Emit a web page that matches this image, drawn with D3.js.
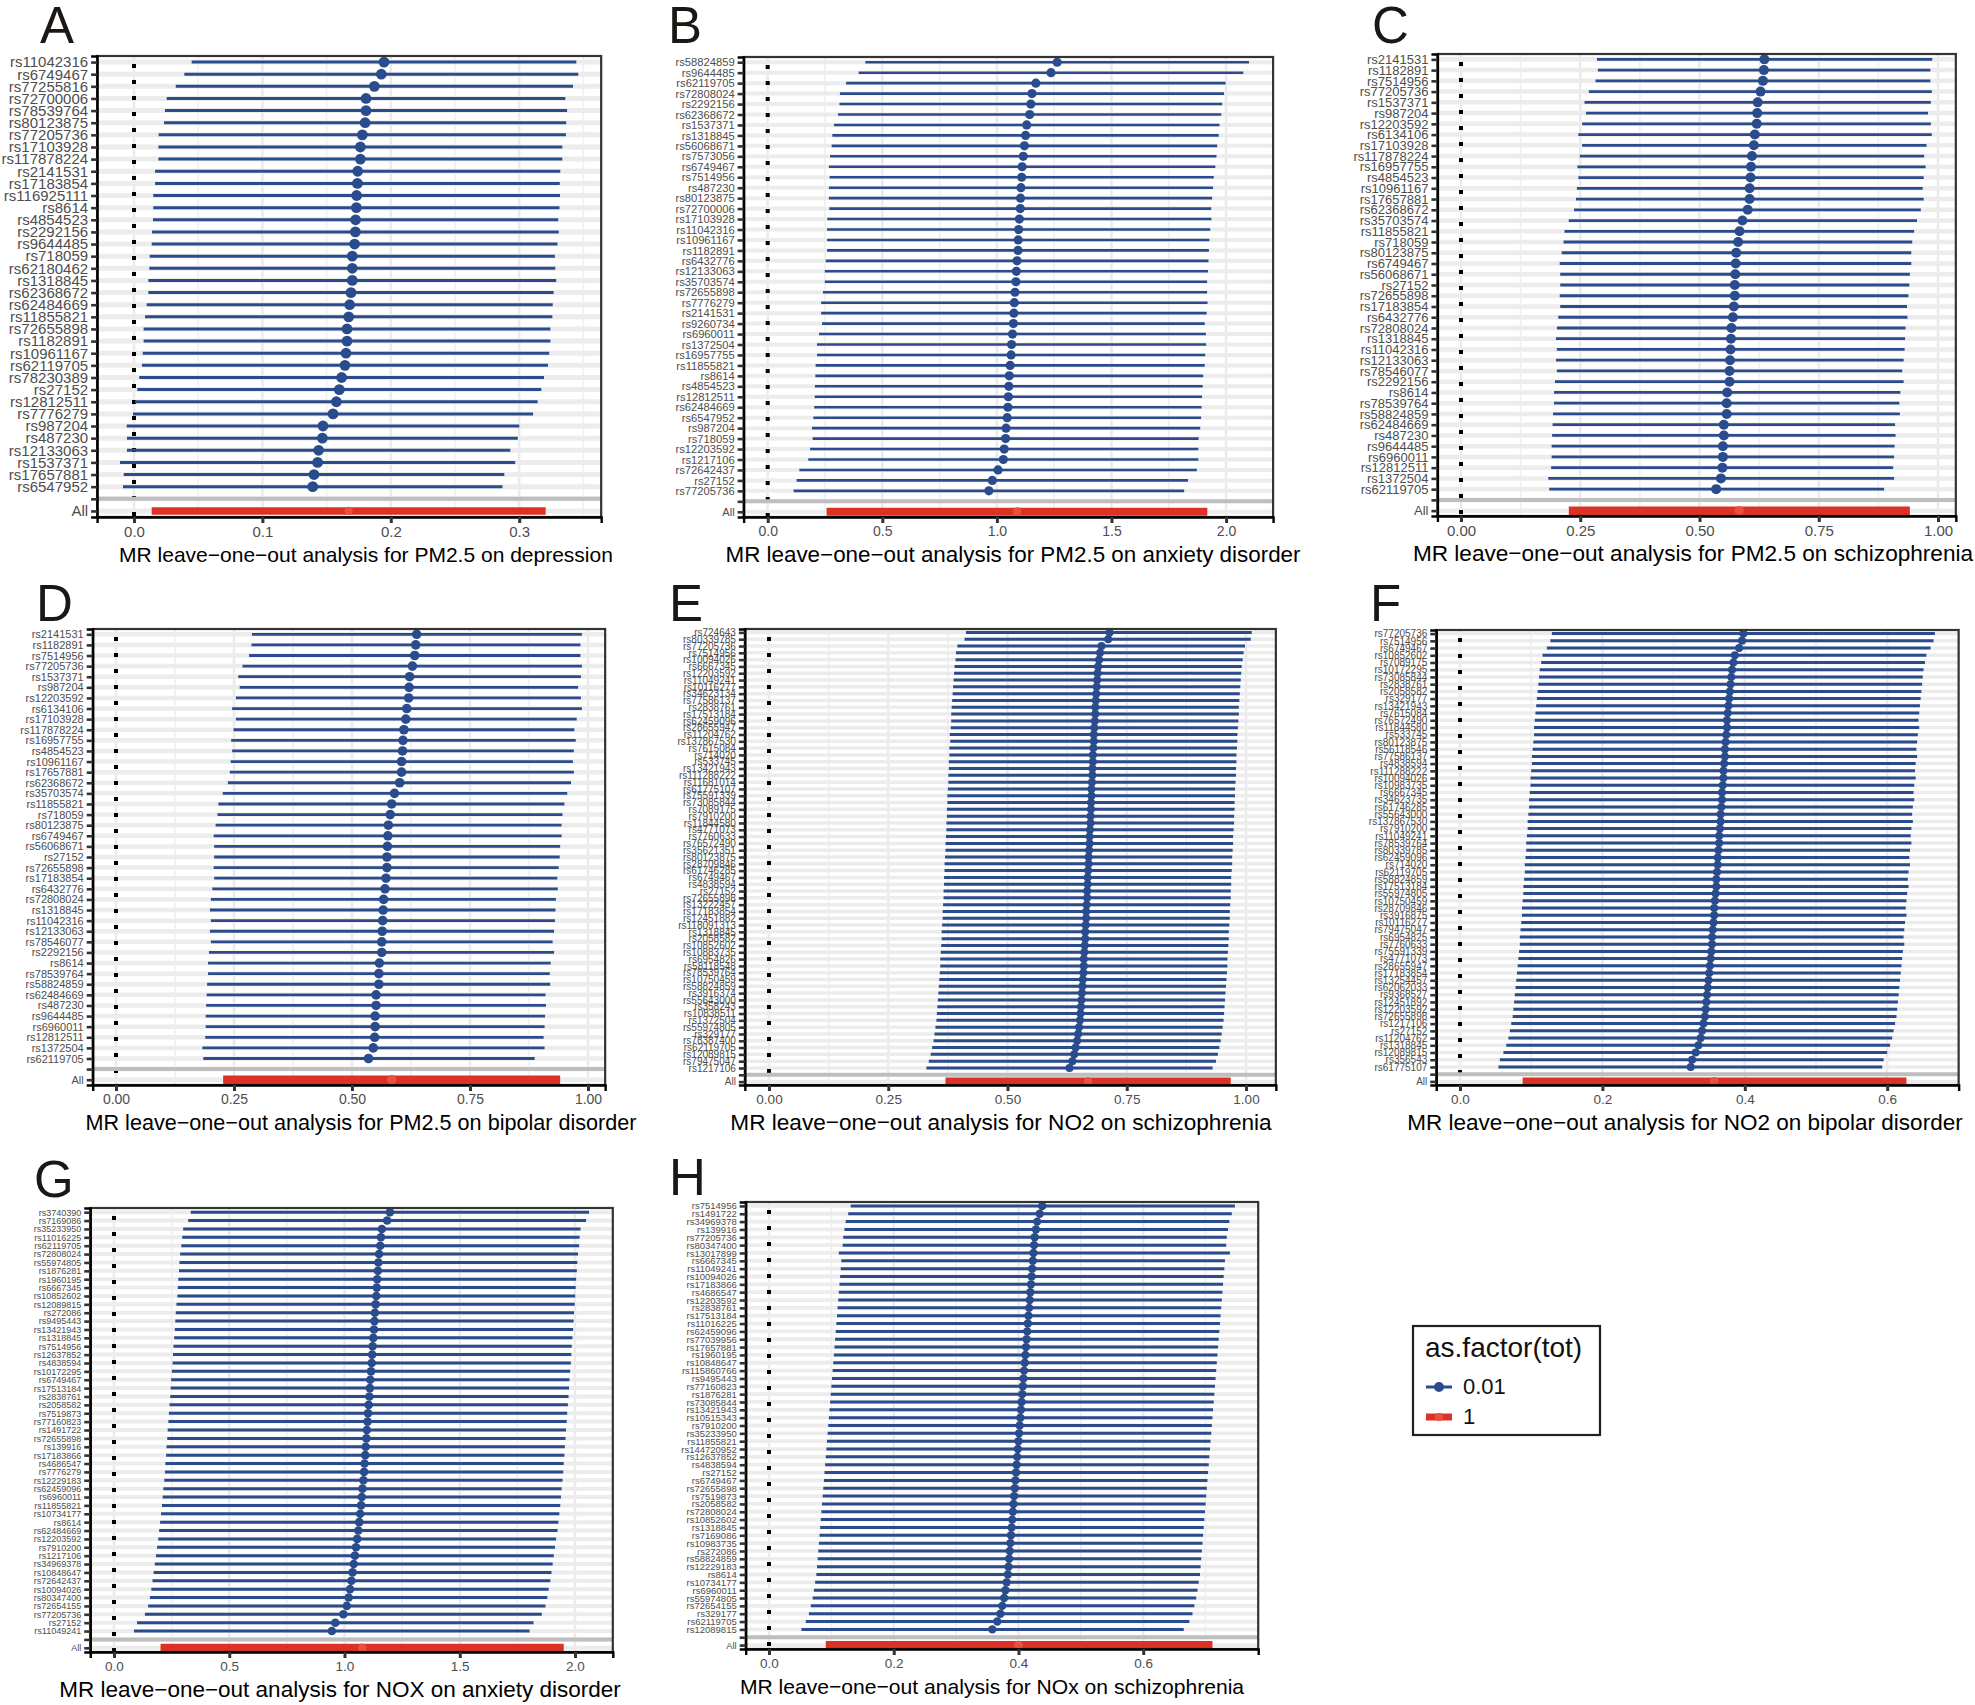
<!DOCTYPE html>
<html><head><meta charset="utf-8">
<script src="https://cdn.jsdelivr.net/npm/d3@7"></script>
<style>
body{margin:0;background:#fff;}
svg{display:block;}
text{font-family:"Liberation Sans",Arial,Helvetica,sans-serif;}
</style>
</head><body>
<svg id="c" width="1975" height="1705"></svg>
<script>
// ---------------- DATA ----------------
const A_snp = ["rs11042316","rs6749467","rs77255816","rs72700006","rs78539764","rs80123875","rs77205736","rs17103928","rs117878224","rs2141531","rs17183854","rs116925111","rs8614","rs4854523","rs2292156","rs9644485","rs718059","rs62180462","rs1318845","rs62368672","rs62484669","rs11855821","rs72655898","rs1182891","rs10961167","rs62119705","rs78230389","rs27152","rs12812511","rs7776279","rs987204","rs487230","rs12133063","rs1537371","rs17657881","rs6547952"];
const A_b  = [0.1947,0.1926,0.1872,0.1807,0.1807,0.1800,0.1778,0.1763,0.1763,0.1742,0.1740,0.1734,0.1732,0.1726,0.1724,0.1718,0.1700,0.1700,0.1700,0.1690,0.1680,0.1672,0.1659,0.1659,0.1651,0.1643,0.1617,0.1599,0.1576,0.1550,0.1472,0.1467,0.1438,0.1430,0.1402,0.1392];
const A_lo = [0.0449,0.0392,0.0325,0.0255,0.0241,0.0234,0.0192,0.0190,0.0190,0.0164,0.0164,0.0150,0.0150,0.0148,0.0140,0.0138,0.0122,0.0119,0.0112,0.0112,0.0099,0.0086,0.0075,0.0075,0.0068,0.0062,0.0041,0.0026,0.0008,-0.0008,-0.0057,-0.0055,-0.0055,-0.0109,-0.0080,-0.0086];
const A_hi = [0.3445,0.3460,0.3419,0.3359,0.3373,0.3366,0.3364,0.3336,0.3336,0.3320,0.3316,0.3318,0.3314,0.3304,0.3308,0.3298,0.3278,0.3281,0.3288,0.3268,0.3261,0.3258,0.3243,0.3243,0.3234,0.3224,0.3193,0.3172,0.3144,0.3108,0.3001,0.2989,0.2931,0.2969,0.2884,0.2870];
const A_all = [0.0138, 0.1672, 0.3206];
const A_ticks = [0, 0.1, 0.2, 0.3];

const B_snp = ["rs58824859","rs9644485","rs62119705","rs72808024","rs2292156","rs62368672","rs1537371","rs1318845","rs56068671","rs7573056","rs6749467","rs7514956","rs487230","rs80123875","rs72700006","rs17103928","rs11042316","rs10961167","rs1182891","rs6432776","rs12133063","rs35703574","rs72655898","rs7776279","rs2141531","rs9260734","rs6960011","rs1372504","rs16957755","rs11855821","rs8614","rs4854523","rs12812511","rs62484669","rs6547952","rs987204","rs718059","rs12203592","rs1217106","rs72642437","rs27152","rs77205736"];
const B_lo = [0.426,0.397,0.342,0.315,0.313,0.307,0.289,0.282,0.279,0.272,0.267,0.270,0.267,0.267,0.269,0.260,0.259,0.259,0.259,0.253,0.249,0.249,0.241,0.233,0.233,0.237,0.224,0.215,0.215,0.209,0.208,0.206,0.205,0.203,0.199,0.193,0.196,0.185,0.177,0.138,0.126,0.113];
const B_b  = [1.263,1.236,1.170,1.153,1.148,1.143,1.130,1.125,1.120,1.115,1.110,1.108,1.105,1.103,1.102,1.098,1.095,1.093,1.092,1.088,1.085,1.083,1.079,1.076,1.074,1.072,1.068,1.064,1.062,1.058,1.054,1.052,1.050,1.048,1.045,1.040,1.038,1.032,1.028,1.005,0.980,0.965];
const B_hi = [2.100,2.075,1.998,1.991,1.983,1.979,1.971,1.968,1.961,1.958,1.953,1.946,1.943,1.939,1.935,1.936,1.931,1.927,1.925,1.923,1.921,1.917,1.917,1.919,1.915,1.907,1.912,1.913,1.909,1.907,1.900,1.898,1.895,1.893,1.891,1.887,1.880,1.879,1.879,1.872,1.834,1.817];
const B_all = [0.257, 1.088, 1.918];
const B_ticks = [0, 0.5, 1.0, 1.5, 2.0];

const C_snp = ["rs2141531","rs1182891","rs7514956","rs77205736","rs1537371","rs987204","rs12203592","rs6134106","rs17103928","rs117878224","rs16957755","rs4854523","rs10961167","rs17657881","rs62368672","rs35703574","rs11855821","rs718059","rs80123875","rs6749467","rs56068671","rs27152","rs72655898","rs17183854","rs6432776","rs72808024","rs1318845","rs11042316","rs12133063","rs78546077","rs2292156","rs8614","rs78539764","rs58824859","rs62484669","rs487230","rs9644485","rs6960011","rs12812511","rs1372504","rs62119705"];
const C_lo = [0.285,0.287,0.282,0.268,0.259,0.262,0.254,0.246,0.254,0.249,0.244,0.246,0.243,0.241,0.237,0.226,0.217,0.215,0.211,0.207,0.208,0.208,0.207,0.208,0.204,0.201,0.199,0.201,0.199,0.201,0.197,0.195,0.195,0.193,0.192,0.191,0.190,0.190,0.189,0.183,0.185];
const C_b  = [0.636,0.635,0.633,0.628,0.622,0.621,0.620,0.616,0.614,0.610,0.608,0.607,0.605,0.605,0.601,0.590,0.584,0.581,0.577,0.576,0.575,0.574,0.574,0.572,0.570,0.567,0.566,0.565,0.564,0.563,0.563,0.558,0.557,0.557,0.551,0.551,0.549,0.549,0.548,0.545,0.535];
const C_hi = [0.988,0.984,0.984,0.987,0.985,0.979,0.985,0.987,0.976,0.971,0.974,0.970,0.968,0.970,0.964,0.956,0.950,0.946,0.944,0.944,0.941,0.940,0.938,0.935,0.936,0.932,0.931,0.930,0.928,0.925,0.928,0.921,0.919,0.920,0.910,0.911,0.909,0.908,0.906,0.908,0.887];
const C_all = [0.226, 0.583, 0.941];
const C_ticks = [0, 0.25, 0.5, 0.75, 1.0];

const D_snp = ["rs2141531","rs1182891","rs7514956","rs77205736","rs1537371","rs987204","rs12203592","rs6134106","rs17103928","rs117878224","rs16957755","rs4854523","rs10961167","rs17657881","rs62368672","rs35703574","rs11855821","rs718059","rs80123875","rs6749467","rs56068671","rs27152","rs72655898","rs17183854","rs6432776","rs72808024","rs1318845","rs11042316","rs12133063","rs78546077","rs2292156","rs8614","rs78539764","rs58824859","rs62484669","rs487230","rs9644485","rs6960011","rs12812511","rs1372504","rs62119705"];
const D_lo = [0.288,0.287,0.282,0.268,0.259,0.262,0.254,0.246,0.254,0.249,0.244,0.246,0.243,0.241,0.237,0.226,0.217,0.215,0.211,0.207,0.208,0.208,0.207,0.208,0.204,0.201,0.199,0.201,0.199,0.201,0.197,0.195,0.195,0.193,0.192,0.191,0.190,0.190,0.189,0.183,0.185];
const D_b  = [0.637,0.635,0.633,0.628,0.622,0.621,0.620,0.616,0.614,0.610,0.608,0.607,0.605,0.605,0.601,0.590,0.584,0.581,0.577,0.576,0.575,0.574,0.574,0.572,0.570,0.567,0.566,0.565,0.564,0.563,0.563,0.558,0.557,0.557,0.551,0.551,0.549,0.549,0.548,0.545,0.535];
const D_hi = [0.987,0.984,0.984,0.987,0.985,0.979,0.985,0.987,0.976,0.971,0.974,0.970,0.968,0.970,0.964,0.956,0.950,0.946,0.944,0.944,0.941,0.940,0.938,0.935,0.936,0.932,0.931,0.930,0.928,0.925,0.928,0.921,0.919,0.920,0.910,0.911,0.909,0.908,0.906,0.908,0.887];
const D_all = [0.227, 0.584, 0.941];
const D_ticks = [0, 0.25, 0.5, 0.75, 1.0];

const E_snp = ["rs724643","rs80339785","rs77205736","rs7514956","rs10094026","rs6667345","rs12203592","rs11049241","rs10116277","rs34623134","rs77586137","rs2838761","rs17513184","rs62459096","rs28655947","rs11204762","rs137867530","rs7615084","rs714020","rs533745","rs13421943","rs111288222","rs11681014","rs61775107","rs75591339","rs73085844","rs7089175","rs7910200","rs11844580","rs4771073","rs7760633","rs76572490","rs35621351","rs80123875","rs28709846","rs61746285","rs6749467","rs4838594","rs27152","rs72655898","rs13222457","rs17183854","rs12451882","rs118091313","rs1318845","rs2058582","rs10852602","rs10883735","rs6954826","rs58118548","rs78539764","rs10750459","rs58824859","rs3916374","rs55643000","rs358243","rs10838511","rs1372504","rs55974805","rs329177","rs78387400","rs62119705","rs12089815","rs79475047","rs1217106"];
const E_b  = [0.714,0.711,0.697,0.694,0.692,0.690,0.689,0.688,0.687,0.686,0.685,0.684,0.684,0.683,0.682,0.681,0.681,0.680,0.679,0.679,0.678,0.678,0.677,0.676,0.676,0.675,0.675,0.674,0.674,0.673,0.672,0.672,0.671,0.670,0.670,0.669,0.668,0.668,0.667,0.667,0.666,0.665,0.665,0.664,0.663,0.663,0.662,0.661,0.660,0.660,0.659,0.658,0.657,0.656,0.655,0.654,0.653,0.652,0.650,0.648,0.646,0.643,0.640,0.636,0.630];
const E_lo = [0.413,0.410,0.395,0.392,0.391,0.389,0.388,0.387,0.386,0.385,0.384,0.383,0.382,0.382,0.381,0.379,0.380,0.378,0.378,0.377,0.377,0.376,0.376,0.375,0.374,0.374,0.373,0.373,0.372,0.372,0.371,0.370,0.370,0.369,0.368,0.368,0.367,0.367,0.366,0.366,0.365,0.364,0.364,0.363,0.362,0.362,0.361,0.360,0.359,0.359,0.358,0.357,0.356,0.355,0.354,0.353,0.352,0.351,0.349,0.347,0.345,0.342,0.339,0.335,0.330];
const E_hi = [1.012,1.010,0.998,0.995,0.993,0.991,0.990,0.989,0.988,0.987,0.986,0.985,0.985,0.984,0.983,0.982,0.982,0.981,0.980,0.980,0.979,0.979,0.978,0.977,0.977,0.976,0.976,0.975,0.975,0.974,0.973,0.973,0.972,0.971,0.971,0.970,0.969,0.969,0.968,0.968,0.967,0.966,0.966,0.965,0.964,0.964,0.963,0.962,0.961,0.961,0.960,0.959,0.958,0.957,0.956,0.955,0.954,0.953,0.951,0.949,0.947,0.944,0.941,0.937,0.930];
const E_all = [0.370, 0.669, 0.968];
const E_ticks = [0, 0.25, 0.5, 0.75, 1.0];

const F_snp = ["rs77205736","rs7514956","rs6749467","rs10852602","rs7089175","rs10172295","rs73085844","rs2838761","rs2058582","rs329177","rs13421943","rs7615084","rs76572490","rs11844580","rs533745","rs80123875","rs56118546","rs77586137","rs4838594","rs111288222","rs10094026","rs10983735","rs6667345","rs34623735","rs61746285","rs55643000","rs137867530","rs7910200","rs11049241","rs78539764","rs80339785","rs62459096","rs714020","rs62119705","rs58824859","rs17513184","rs55974805","rs10750459","rs28709846","rs3916875","rs10116277","rs79475047","rs6954825","rs7760633","rs75591339","rs4771073","rs28655947","rs17183854","rs13254457","rs62062033","rs9368527","rs12451892","rs12203592","rs72655898","rs1217106","rs27152","rs11204762","rs1318845","rs12089815","rs356543","rs61775107"];
const F_b  = [0.398,0.396,0.392,0.386,0.384,0.382,0.381,0.380,0.379,0.378,0.377,0.376,0.375,0.375,0.374,0.373,0.372,0.372,0.371,0.370,0.370,0.369,0.368,0.368,0.367,0.366,0.366,0.365,0.364,0.364,0.363,0.362,0.362,0.361,0.360,0.360,0.359,0.358,0.357,0.357,0.356,0.355,0.354,0.354,0.353,0.352,0.351,0.350,0.349,0.348,0.347,0.346,0.345,0.344,0.342,0.340,0.338,0.335,0.331,0.326,0.324];
const F_lo = [0.129,0.127,0.122,0.116,0.114,0.112,0.111,0.110,0.109,0.108,0.107,0.106,0.105,0.104,0.104,0.103,0.102,0.101,0.101,0.100,0.099,0.099,0.098,0.097,0.097,0.096,0.095,0.095,0.094,0.093,0.093,0.092,0.091,0.091,0.090,0.089,0.089,0.088,0.087,0.087,0.086,0.085,0.084,0.084,0.083,0.082,0.081,0.080,0.079,0.078,0.077,0.076,0.075,0.074,0.072,0.070,0.068,0.065,0.061,0.056,0.054];
const F_hi = [0.667,0.665,0.661,0.655,0.653,0.651,0.650,0.649,0.648,0.647,0.646,0.645,0.644,0.645,0.643,0.642,0.641,0.642,0.640,0.639,0.640,0.638,0.637,0.638,0.636,0.635,0.636,0.634,0.633,0.634,0.632,0.631,0.632,0.630,0.629,0.630,0.628,0.627,0.626,0.627,0.625,0.624,0.623,0.624,0.622,0.621,0.620,0.619,0.618,0.617,0.616,0.615,0.614,0.613,0.611,0.609,0.607,0.604,0.600,0.595,0.593];
const F_all = [0.088, 0.357, 0.627];
const F_ticks = [0, 0.2, 0.4, 0.6];

const G_snp = ["rs3740390","rs7169086","rs35233950","rs11016225","rs62119705","rs72808024","rs55974805","rs1876281","rs1960195","rs6667345","rs10852602","rs12089815","rs272086","rs9495443","rs13421943","rs1318845","rs7514956","rs12637852","rs4838594","rs10172295","rs6749467","rs17513184","rs2838761","rs2058582","rs7519873","rs77160823","rs1491722","rs72655898","rs139916","rs17183866","rs4686547","rs7776279","rs12229183","rs62459096","rs6960011","rs11855821","rs10734177","rs8614","rs62484669","rs12203592","rs7910200","rs1217106","rs34969378","rs10848647","rs72642437","rs10094026","rs80347400","rs72654155","rs77205736","rs27152","rs11049241"];
const G_b  = [1.197,1.185,1.162,1.158,1.155,1.150,1.147,1.145,1.142,1.140,1.138,1.135,1.132,1.130,1.128,1.125,1.122,1.120,1.118,1.115,1.112,1.110,1.108,1.105,1.102,1.100,1.097,1.095,1.092,1.090,1.087,1.085,1.082,1.078,1.075,1.072,1.068,1.064,1.060,1.055,1.050,1.045,1.040,1.035,1.030,1.024,1.018,1.010,0.995,0.960,0.945];
const G_lo = [0.333,0.322,0.300,0.296,0.292,0.287,0.284,0.282,0.279,0.277,0.275,0.271,0.268,0.266,0.264,0.261,0.258,0.256,0.254,0.251,0.248,0.246,0.244,0.241,0.238,0.236,0.233,0.231,0.228,0.226,0.223,0.221,0.218,0.214,0.211,0.208,0.204,0.200,0.196,0.192,0.187,0.182,0.177,0.172,0.167,0.162,0.156,0.148,0.134,0.100,0.087];
const G_hi = [2.061,2.048,2.024,2.020,2.018,2.013,2.010,2.008,2.005,2.003,2.001,1.999,1.996,1.994,1.992,1.989,1.986,1.984,1.982,1.979,1.976,1.974,1.972,1.969,1.966,1.964,1.961,1.959,1.956,1.954,1.951,1.949,1.946,1.942,1.939,1.936,1.932,1.928,1.924,1.918,1.913,1.908,1.903,1.898,1.893,1.886,1.880,1.872,1.856,1.820,1.803];
const G_all = [0.202, 1.077, 1.951];
const G_ticks = [0, 0.5, 1.0, 1.5, 2.0];

const H_snp = ["rs7514956","rs1491722","rs34969378","rs139916","rs77205736","rs80347400","rs13017899","rs6667345","rs11049241","rs10094026","rs17183866","rs4686547","rs12203592","rs2838761","rs17513184","rs11016225","rs62459096","rs77039956","rs17657881","rs1960195","rs10848647","rs115860766","rs9495443","rs77160823","rs1876281","rs73085844","rs13421943","rs10515343","rs7910200","rs35233950","rs11855821","rs144720952","rs12637852","rs4838594","rs27152","rs6749467","rs72655898","rs7519873","rs2058582","rs72808024","rs10852602","rs1318845","rs7169086","rs10983735","rs272086","rs58824859","rs12229183","rs8614","rs10734177","rs6960011","rs55974805","rs72654155","rs329177","rs62119705","rs12089815"];
const H_b  = [0.438,0.434,0.430,0.428,0.426,0.425,0.424,0.423,0.422,0.421,0.420,0.419,0.418,0.417,0.416,0.415,0.414,0.413,0.412,0.411,0.410,0.409,0.408,0.407,0.406,0.405,0.404,0.403,0.402,0.401,0.400,0.399,0.398,0.397,0.396,0.395,0.394,0.393,0.392,0.391,0.390,0.389,0.388,0.387,0.386,0.385,0.384,0.383,0.381,0.379,0.377,0.374,0.371,0.366,0.358];
const H_lo = [0.131,0.127,0.123,0.121,0.119,0.118,0.112,0.116,0.115,0.114,0.113,0.112,0.111,0.110,0.109,0.108,0.107,0.106,0.105,0.104,0.103,0.102,0.101,0.100,0.099,0.098,0.097,0.096,0.095,0.094,0.093,0.092,0.091,0.090,0.089,0.088,0.087,0.086,0.085,0.084,0.083,0.082,0.081,0.080,0.079,0.078,0.077,0.076,0.074,0.072,0.070,0.067,0.064,0.059,0.052];
const H_hi = [0.747,0.742,0.738,0.736,0.734,0.733,0.739,0.731,0.730,0.729,0.728,0.727,0.726,0.725,0.724,0.723,0.722,0.721,0.720,0.719,0.718,0.717,0.716,0.715,0.714,0.713,0.712,0.711,0.710,0.709,0.708,0.707,0.706,0.705,0.704,0.703,0.702,0.701,0.700,0.699,0.698,0.697,0.696,0.695,0.694,0.693,0.692,0.691,0.689,0.687,0.685,0.682,0.679,0.674,0.665];
const H_all = [0.091, 0.400, 0.711];
const H_ticks = [0, 0.2, 0.4, 0.6];

const titles = {
  A: "MR leave\u2212one\u2212out analysis for PM2.5 on depression",
  B: "MR leave\u2212one\u2212out analysis for PM2.5 on anxiety disorder",
  C: "MR leave\u2212one\u2212out analysis for PM2.5 on schizophrenia",
  D: "MR leave\u2212one\u2212out analysis for PM2.5 on bipolar disorder",
  E: "MR leave\u2212one\u2212out analysis for NO2 on schizophrenia",
  F: "MR leave\u2212one\u2212out analysis for NO2 on bipolar disorder",
  G: "MR leave\u2212one\u2212out analysis for NOX on anxiety disorder",
  H: "MR leave\u2212one\u2212out analysis for NOx on schizophrenia"
};
const legendTitle = "as.factor(tot)";
const legendLabels = ["0.01", "1"];

// ---------------- LAYOUT / STYLE ----------------
const BLUE = "#2B4C8C", RED = "#DC3124", RED_PT = "#E8503F";
const layout = {
  A:{zero:134, unit:1284, top:56, bottom:517, yfs:15, xfs:15, tfs:21, tcx:366, letX:40, letY:43, lw:3, r:5.4, band:5, redW:7.5, fmt:".1f"},
  B:{zero:767.7, unit:229.2, top:57, bottom:517, yfs:11.2, xfs:14, tfs:22.4, tcx:1013, letX:668, letY:43, lw:2.6, r:4.6, band:4, redW:8, fmt:".1f"},
  C:{zero:1461, unit:477, top:54, bottom:516, yfs:13, xfs:15, tfs:22.6, tcx:1693, letX:1372, letY:43, lw:2.8, r:5, band:4.5, redW:8.5, fmt:".2f"},
  D:{zero:116, unit:472, top:629, bottom:1085, yfs:11, xfs:14, tfs:21.6, tcx:361, letX:36, letY:621, lw:2.8, r:4.8, band:4.5, redW:8.5, fmt:".2f"},
  E:{zero:769, unit:477, top:629, bottom:1085, yfs:10, xfs:13.5, tfs:22.6, tcx:1001, letX:669, letY:621, lw:3, r:4, band:3.5, redW:8, fmt:".2f"},
  F:{zero:1460, unit:712, top:630, bottom:1085, yfs:10, xfs:13.5, tfs:22.5, tcx:1685, letX:1370, letY:621, lw:3, r:4, band:3.5, redW:8, fmt:".1f"},
  G:{zero:114, unit:230.5, top:1208, bottom:1652, yfs:9, xfs:13.5, tfs:22.5, tcx:340, letX:34, letY:1197, lw:3, r:4.3, band:4, redW:8, fmt:".1f"},
  H:{zero:769, unit:623.7, top:1202, bottom:1649, yfs:9.5, xfs:13.5, tfs:21.1, tcx:992, letX:669, letY:1195, lw:3, r:4.2, band:3.8, redW:8, fmt:".1f"}
};
const panelData = {
  A:{snp:A_snp, b:A_b, lo:A_lo, hi:A_hi, all:A_all, ticks:A_ticks},
  B:{snp:B_snp, b:B_b, lo:B_lo, hi:B_hi, all:B_all, ticks:B_ticks},
  C:{snp:C_snp, b:C_b, lo:C_lo, hi:C_hi, all:C_all, ticks:C_ticks},
  D:{snp:D_snp, b:D_b, lo:D_lo, hi:D_hi, all:D_all, ticks:D_ticks},
  E:{snp:E_snp, b:E_b, lo:E_lo, hi:E_hi, all:E_all, ticks:E_ticks},
  F:{snp:F_snp, b:F_b, lo:F_lo, hi:F_hi, all:F_all, ticks:F_ticks},
  G:{snp:G_snp, b:G_b, lo:G_lo, hi:G_hi, all:G_all, ticks:G_ticks},
  H:{snp:H_snp, b:H_b, lo:H_lo, hi:H_hi, all:H_all, ticks:H_ticks}
};

const svg = d3.select("#c");
svg.append("rect").attr("width",1975).attr("height",1705).attr("fill","#fff");

function drawPanel(key){
  const d = panelData[key], L = layout[key];
  const vals = [0, ...d.lo, ...d.hi, d.all[0], d.all[2]];
  const ext = d3.extent(vals);
  const pad = (ext[1]-ext[0])*0.05;
  const dom = [ext[0]-pad, ext[1]+pad];
  const left = L.zero + dom[0]*L.unit, right = L.zero + dom[1]*L.unit;
  const x = d3.scaleLinear().domain(dom).range([left, right]);
  const cats = [...d.snp, "", "All"];
  const y = d3.scalePoint().domain(cats).range([L.top, L.bottom]).padding(0.5);
  const g = svg.append("g").attr("class","panel-"+key);

  const st = d.ticks[1]-d.ticks[0];
  const minors = [];
  for (let v = d.ticks[0]-st/2; v <= dom[1]; v += st/2) {
    if (v >= dom[0] && !d.ticks.some(t=>Math.abs(t-v)<1e-9)) minors.push(v);
  }
  g.append("g").selectAll("line").data(minors).join("line")
    .attr("x1",v=>x(v)).attr("x2",v=>x(v)).attr("y1",L.top).attr("y2",L.bottom)
    .attr("stroke","#efefef").attr("stroke-width",1.6);
  g.append("g").selectAll("line").data(d.ticks).join("line")
    .attr("x1",v=>x(v)).attr("x2",v=>x(v)).attr("y1",L.top).attr("y2",L.bottom)
    .attr("stroke","#ebebeb").attr("stroke-width",2.6);
  g.append("g").selectAll("line").data(cats).join("line")
    .attr("x1",left).attr("x2",right).attr("y1",c=>y(c)).attr("y2",c=>y(c))
    .attr("stroke","#ececec").attr("stroke-width",L.band);
  g.append("line").attr("x1",x(0)).attr("x2",x(0)).attr("y1",L.top).attr("y2",L.bottom)
    .attr("stroke","#000").attr("stroke-width",4).attr("stroke-dasharray","4,12")
    .attr("stroke-dashoffset",-8);
  const rows = d.snp.map((s,i)=>({s, b:d.b[i], lo:d.lo[i], hi:d.hi[i]}));
  g.append("g").selectAll("line").data(rows).join("line")
    .attr("x1",r=>x(r.lo)).attr("x2",r=>x(r.hi)).attr("y1",r=>y(r.s)).attr("y2",r=>y(r.s))
    .attr("stroke",BLUE).attr("stroke-width",L.lw);
  g.append("g").selectAll("circle").data(rows).join("circle")
    .attr("cx",r=>x(r.b)).attr("cy",r=>y(r.s)).attr("r",L.r).attr("fill",BLUE);
  g.append("line").attr("x1",x(d.all[0])).attr("x2",x(d.all[2])).attr("y1",y("All")).attr("y2",y("All"))
    .attr("stroke",RED).attr("stroke-width",L.redW);
  g.append("circle").attr("cx",x(d.all[1])).attr("cy",y("All")).attr("r",L.redW*0.55).attr("fill",RED_PT);
  g.append("line").attr("x1",left).attr("x2",right).attr("y1",y("")).attr("y2",y(""))
    .attr("stroke","#bebebe").attr("stroke-width",4);
  g.append("rect").attr("x",left).attr("y",L.top).attr("width",right-left).attr("height",L.bottom-L.top)
    .attr("fill","none").attr("stroke","#333").attr("stroke-width",2.2);
  const ya = g.append("g").attr("transform",`translate(${left},0)`)
    .call(d3.axisLeft(y).tickSize(6).tickPadding(3));
  ya.select(".domain").attr("stroke","#000").attr("stroke-width",2.4);
  ya.selectAll(".tick line").attr("stroke","#333").attr("stroke-width",2.6);
  ya.selectAll(".tick text").attr("fill","#4d4d4d").style("font-size",L.yfs+"px")
    .style("font-family","'Liberation Sans',Arial,sans-serif");
  const xa = g.append("g").attr("transform",`translate(0,${L.bottom})`)
    .call(d3.axisBottom(x).tickValues(d.ticks).tickFormat(d3.format(L.fmt)).tickSize(6).tickPadding(3));
  xa.select(".domain").attr("stroke","#000").attr("stroke-width",2.4);
  xa.selectAll(".tick line").attr("stroke","#333").attr("stroke-width",3);
  xa.selectAll(".tick text").attr("fill","#4d4d4d").style("font-size",L.xfs+"px")
    .style("font-family","'Liberation Sans',Arial,sans-serif");
  g.append("text").attr("x",L.tcx).attr("y",L.bottom+45).attr("text-anchor","middle")
    .style("font-size",L.tfs+"px").attr("fill","#000").text(titles[key]);
  svg.append("text").attr("x",L.letX).attr("y",L.letY).style("font-size","51px")
    .attr("fill","#1a1714").text(key);
}
["A","B","C","D","E","F","G","H"].forEach(drawPanel);

// ---------------- LEGEND ----------------
const lg = svg.append("g");
lg.append("rect").attr("x",1413).attr("y",1326).attr("width",187).attr("height",109)
  .attr("fill","#fff").attr("stroke","#231f20").attr("stroke-width",2.2);
lg.append("text").attr("x",1425).attr("y",1357).style("font-size","28px").attr("fill","#111").text(legendTitle);
const ly = d3.scalePoint().domain(legendLabels).range([1387, 1417]);
lg.append("line").attr("x1",1426).attr("x2",1452).attr("y1",ly("0.01")).attr("y2",ly("0.01"))
  .attr("stroke",BLUE).attr("stroke-width",3);
lg.append("circle").attr("cx",1439).attr("cy",ly("0.01")).attr("r",5).attr("fill",BLUE);
lg.append("line").attr("x1",1426).attr("x2",1452).attr("y1",ly("1")).attr("y2",ly("1"))
  .attr("stroke",RED).attr("stroke-width",7);
lg.append("circle").attr("cx",1439).attr("cy",ly("1")).attr("r",4).attr("fill",RED_PT);
lg.selectAll("text.lab").data(legendLabels).join("text").attr("class","lab")
  .attr("x",1463).attr("y",v=>ly(v)+7).style("font-size","22px").attr("fill","#111").text(v=>v);
</script>
</body></html>
